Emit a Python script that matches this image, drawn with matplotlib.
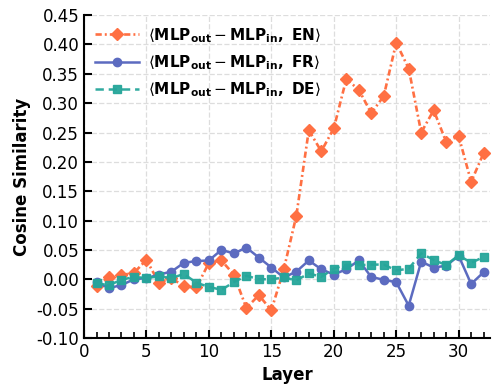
import matplotlib
matplotlib.use("Agg")
import matplotlib.pyplot as plt
from matplotlib.ticker import MultipleLocator, FormatStrFormatter

plt.rcParams['lines.scale_dashes'] = False

layers = list(range(1, 33))
en = [-0.012, 0.004, 0.007, 0.011, 0.033, -0.006, 0.002, -0.012, -0.014, 0.028,
      0.032, 0.008, -0.049, -0.027, -0.053, 0.017, 0.108, 0.254, 0.218, 0.257,
      0.341, 0.323, 0.283, 0.312, 0.403, 0.359, 0.250, 0.288, 0.234, 0.244,
      0.166, 0.215]
fr = [-0.005, -0.015, -0.010, 0.000, 0.002, 0.008, 0.013, 0.028, 0.031, 0.032,
      0.050, 0.044, 0.054, 0.037, 0.020, 0.003, 0.013, 0.032, 0.017, 0.008,
      0.017, 0.032, 0.004, -0.001, -0.005, -0.045, 0.030, 0.020, 0.023, 0.040,
      -0.008, 0.012]
de = [-0.007, -0.010, -0.001, 0.004, 0.002, 0.005, 0.002, 0.009, -0.006, -0.013,
      -0.018, -0.005, 0.006, 0.000, 0.000, 0.003, -0.002, 0.010, 0.004, 0.018,
      0.025, 0.024, 0.025, 0.025, 0.015, 0.018, 0.044, 0.033, 0.024, 0.041,
      0.028, 0.038]

labels = [r'$\langle \mathbf{MLP}_{\mathbf{out}} - \mathbf{MLP}_{\mathbf{in}}\mathbf{,\ EN} \rangle$',
          r'$\langle \mathbf{MLP}_{\mathbf{out}} - \mathbf{MLP}_{\mathbf{in}}\mathbf{,\ FR} \rangle$',
          r'$\langle \mathbf{MLP}_{\mathbf{out}} - \mathbf{MLP}_{\mathbf{in}}\mathbf{,\ DE} \rangle$']

fig = plt.figure(figsize=(4.98, 3.88), dpi=100)
ax = fig.add_axes([0.1687, 0.129, 0.815, 0.832])

ax.plot(layers, en, linestyle=(0, (4.5, 2.2, 1.4, 2.2)), marker='D', color='#FF7043',
        lw=1.9, ms=6, label=labels[0])
ax.plot(layers, fr, linestyle='-', marker='o', color='#5C6BC0', lw=1.8, ms=6, label=labels[1])
ax.plot(layers, de, linestyle=(0, (6, 3.5)), marker='s', color='#26A69A', lw=1.8, ms=5.8,
        label=labels[2], alpha=0.95)

ax.set_xlim(0, 32.5)
ax.set_ylim(-0.10, 0.45)
ax.xaxis.set_major_locator(MultipleLocator(5))
ax.xaxis.set_minor_locator(MultipleLocator(1))
ax.yaxis.set_major_locator(MultipleLocator(0.05))
ax.yaxis.set_major_formatter(FormatStrFormatter('%.2f'))
ax.tick_params(axis='both', which='major', direction='in', length=6, width=1.5, labelsize=12)
ax.tick_params(axis='both', which='minor', direction='in', length=4, width=1.2)
ax.grid(True, which='major', linestyle='--', color='#dddddd', lw=0.9)
for s in ['top', 'right']:
    ax.spines[s].set_visible(False)
for s in ['left', 'bottom']:
    ax.spines[s].set_linewidth(1.5)
ax.set_xlabel('Layer', fontsize=12, fontweight='bold')
ax.set_ylabel('Cosine Similarity', fontsize=12, fontweight='bold')
ax.legend(loc='upper left', frameon=False, fontsize=11, handlelength=2.9,
          handletextpad=0.6, borderaxespad=0.3, labelspacing=0.55)

fig.savefig('out.png', dpi=100)
